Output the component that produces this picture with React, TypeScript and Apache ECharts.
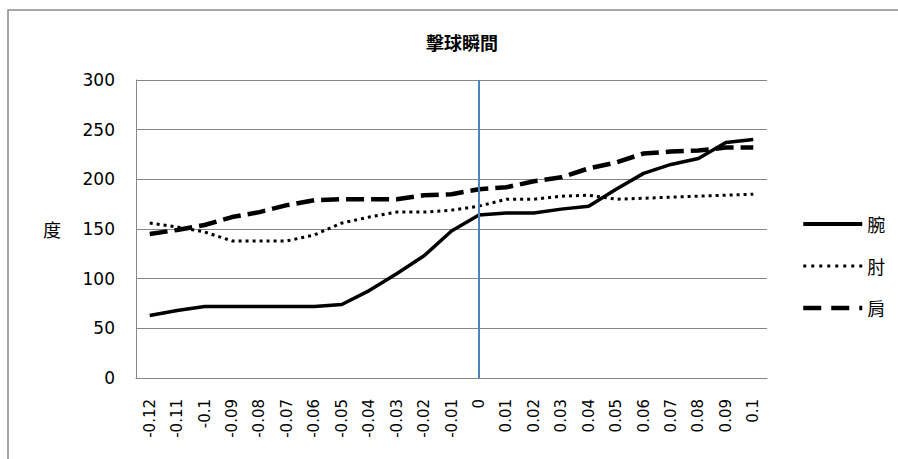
import React, { useEffect, useRef } from "react";
import * as echarts from "echarts";

const categories = [
  "-0.12", "-0.11", "-0.1", "-0.09", "-0.08", "-0.07", "-0.06", "-0.05", "-0.04", "-0.03", "-0.02", "-0.01",
  "0", "0.01", "0.02", "0.03", "0.04", "0.05", "0.06", "0.07", "0.08", "0.09", "0.1",
];
const wrist = [63, 68, 72, 72, 72, 72, 72, 74, 88, 105, 123, 148, 164, 166, 166, 170, 173, 190, 206, 215, 221, 237, 240];
const elbow = [156, 152, 147, 138, 138, 138, 144, 156, 162, 167, 167, 169, 173, 180, 180, 183, 184, 180, 181, 182, 183, 184, 185];
const shoulder = [145, 149, 154, 162, 167, 174, 179, 180, 180, 180, 184, 185, 190, 192, 198, 202, 211, 217, 226, 228, 229, 232, 232];
const seriesNames = ["腕", "肘", "肩"];
const titleText = "擊球瞬間";
const yName = "度";
const markX = "0";

const FONT = "'DejaVu Sans', 'Noto Sans CJK TC', sans-serif";
const CJK = "'Noto Sans CJK TC', 'DejaVu Sans', sans-serif";

export default function App() {
  const ref = useRef<HTMLDivElement>(null);
  useEffect(() => {
    if (!ref.current) return;
    const chart = echarts.init(ref.current, null, { renderer: "svg" });
    const hidden = { opacity: 0, borderWidth: 0 };
    chart.setOption({
      animation: false,
      backgroundColor: "#fff",
      title: {
        text: titleText,
        left: 421,
        top: 28,
        textStyle: { fontSize: 18, fontWeight: "bold", color: "#000", fontFamily: CJK },
      },
      graphic: [
        {
          type: "rect",
          shape: { x: 8, y: 10, width: 1000, height: 1000 },
          style: { fill: "none", stroke: "#8a8a8a", lineWidth: 1.5 },
          silent: true,
        },
      ],
      legend: {
        orient: "vertical",
        left: 801,
        top: 215,
        padding: 0,
        itemWidth: 59,
        itemHeight: 14,
        itemGap: 24,
        textStyle: { fontSize: 18, color: "#000", fontFamily: CJK },
        data: [
          { name: seriesNames[0], itemStyle: hidden, lineStyle: { width: 4, type: "solid", color: "#000" } },
          { name: seriesNames[1], itemStyle: hidden, lineStyle: { width: 3, type: [3, 5], color: "#000" } },
          { name: seriesNames[2], itemStyle: hidden, lineStyle: { width: 4.5, type: [18, 10], color: "#000" } },
        ],
      },
      grid: { left: 136, right: 131, top: 80, bottom: 81 },
      xAxis: {
        type: "category",
        data: categories,
        boundaryGap: true,
        axisLine: { show: true, lineStyle: { color: "#868686", width: 1 } },
        axisTick: { show: false },
        axisLabel: { rotate: 90, interval: 0, fontSize: 15, color: "#000", fontFamily: FONT, margin: 21 },
        splitLine: { show: false },
      },
      yAxis: {
        type: "value",
        min: 0,
        max: 300,
        interval: 50,
        name: yName,
        nameLocation: "middle",
        nameRotate: 0,
        nameGap: 75,
        nameTextStyle: { fontSize: 18, color: "#000", fontFamily: CJK },
        axisLine: { show: true, lineStyle: { color: "#868686", width: 1 } },
        axisTick: { show: false },
        axisLabel: { fontSize: 17, color: "#000", fontFamily: FONT, margin: 21 },
        splitLine: { show: true, lineStyle: { color: "#868686", width: 1 } },
      },
      series: [
        {
          name: seriesNames[0],
          type: "line",
          data: wrist,
          symbol: "none",
          lineStyle: { color: "#000", width: 3.5, type: "solid" },
          itemStyle: { color: "#000" },
          z: 3,
          markLine: {
            silent: true,
            symbol: "none",
            label: { show: false },
            lineStyle: { color: "#4f81bd", width: 2, type: "solid" },
            data: [{ xAxis: markX }],
          },
        },
        {
          name: seriesNames[1],
          type: "line",
          data: elbow,
          symbol: "none",
          lineStyle: { color: "#000", width: 3, type: [3, 4] },
          itemStyle: { color: "#000" },
          z: 2,
        },
        {
          name: seriesNames[2],
          type: "line",
          data: shoulder,
          symbol: "none",
          lineStyle: { color: "#000", width: 4.5, type: [18, 7] },
          itemStyle: { color: "#000" },
          z: 2,
        },
      ],
    });
    return () => chart.dispose();
  }, []);
  return (
    <div
      ref={ref}
      style={{ position: "fixed", left: 0, top: 0, width: 898, height: 459, background: "#fff" }}
    />
  );
}
